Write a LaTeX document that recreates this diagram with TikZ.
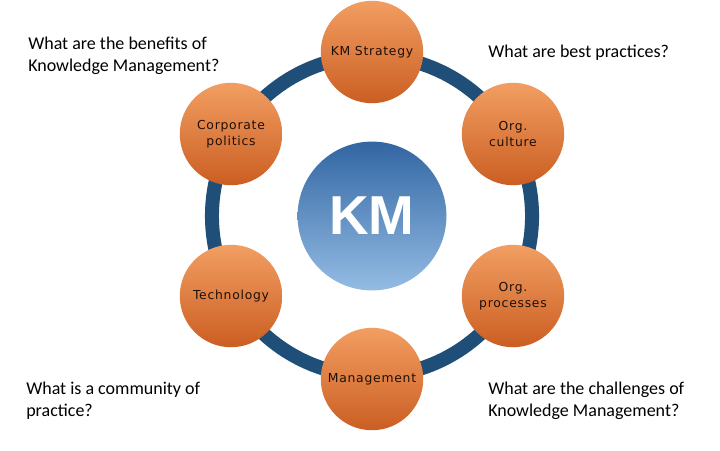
\documentclass[tikz,border=0pt]{standalone}
\usepackage{fontspec}
\setmainfont{Carlito}
\newfontfamily\ballfont[LetterSpace=6]{DejaVu Sans}
\newfontfamily\hubfont{Liberation Sans}
\usepackage{tikz}
\usetikzlibrary{positioning}
\definecolor{Ring}{RGB}{31,78,121}
\definecolor{OrangeTop}{RGB}{242,158,98}
\definecolor{OrangeLow}{RGB}{203,94,34}
\definecolor{BlueTop}{RGB}{50,102,162}
\definecolor{BlueLow}{RGB}{148,188,228}
\definecolor{Ink}{RGB}{30,15,8}
\tikzset{
  ball/.style={circle,minimum size=2.56cm,inner sep=0pt,top color=OrangeTop,bottom color=OrangeLow,draw=none,align=center,text=Ink,font=\ballfont\fontsize{8.8}{11.4}\selectfont},
  hub/.style={circle,minimum size=3.72cm,inner sep=0pt,top color=BlueTop,bottom color=BlueLow,draw=none,text=white,font=\hubfont\bfseries\fontsize{39}{40}\selectfont},
  ring/.style={draw=Ring,line width=0.35cm},
  question/.style={anchor=north west,align=left,inner sep=0pt,font=\fontsize{12.8}{15.6}\selectfont}
}

\begin{document}
\begin{tikzpicture}[x=0.025cm,y=-0.025cm]
\useasboundingbox[fill=white] (0,0) rectangle (720,450);
% hub and ring
\node[hub] (km) at (372,216) {KM};
\draw[ring] (km.center) circle[radius=4cm];
% the six balls
\node[ball] (strategy) at (372,52) {KM Strategy};
\node[ball] (culture) at (513,134) {Org.\\culture};
\node[ball] (processes) at (513,296) {Org.\\processes};
\node[ball] (management) at (372,379) {Management};
\node[ball] (technology) at (231,296) {Technology};
\node[ball] (politics) at (231,134) {Corporate\\politics};
% questions
\node[question] (benefits) at (28,37) {What are the benefits of\\Knowledge Management?};
\node[question] (practices) at (488,45) {What are best practices?};
\node[question] (community) at (26,382) {What is a community of\\practice?};
\node[question] (challenges) at (488,382) {What are the challenges of\\Knowledge Management?};
\end{tikzpicture}
\end{document}
